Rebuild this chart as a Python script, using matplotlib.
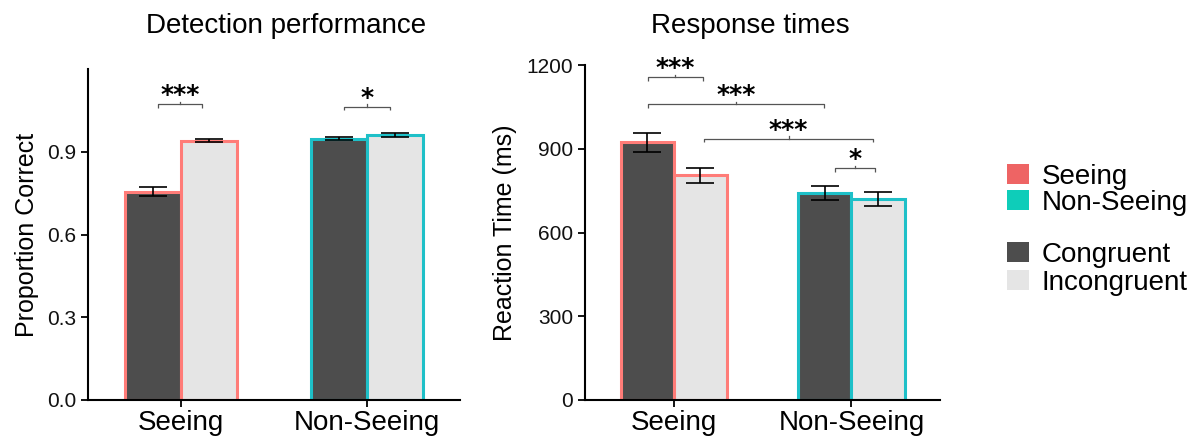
import numpy as np
import matplotlib.pyplot as plt
from matplotlib.patches import Rectangle

plt.rcParams['font.family'] = ['Liberation Sans', 'DejaVu Sans']

groups = ['Seeing', 'Non-Seeing']
conditions = ['Congruent', 'Incongruent']

# detection accuracy (proportion correct), mean and s.e.m.
acc_congruent = [0.756, 0.948]
acc_incongruent = [0.940, 0.961]
acc_err_congruent = [0.017, 0.007]
acc_err_incongruent = [0.006, 0.006]

# reaction times (ms), mean and s.e.m.
rt_congruent = [923, 742]
rt_incongruent = [806, 720]
rt_err_congruent = [35, 25]
rt_err_incongruent = [27, 25]

# significance brackets: (x1, x2, height, label)
acc_sig = [(-0.124, 0.113, 1.072, '***'), (0.876, 1.124, 1.064, '*')]
rt_sig = [(-0.146, 0.163, 1156, '***'), (-0.146, 0.843, 1060, '***'),
          (0.169, 1.124, 935, '***'), (0.910, 1.135, 830, '*')]

group_edge = ['#FF7C78', '#1EC0C8']
legend_group = ['#EE6464', '#0ECDB9']
fill_colors = ['#4D4D4D', '#E5E5E5']

width = 0.3
x = np.arange(len(groups))

fig = plt.figure(figsize=(12, 4.36), dpi=100)
ax1 = fig.add_axes([0.0733, 0.0826, 0.310, 0.759])
ax2 = fig.add_axes([0.4875, 0.0826, 0.296, 0.768])


def draw_panel(ax, cong, incong, err_c, err_i, sig, ymax, bracket_drop):
    for vals, errs, offset, fc in [(cong, err_c, -width / 2, fill_colors[0]),
                                   (incong, err_i, width / 2, fill_colors[1])]:
        ax.bar(x + offset, vals, width, color=fc, edgecolor=group_edge,
               linewidth=2.2, zorder=2)
        ax.errorbar(x + offset, vals, yerr=errs, fmt='none', ecolor='black',
                    elinewidth=1.2, capsize=10, capthick=1.2, zorder=3)
    for x1, x2, h, label in sig:
        d = bracket_drop
        ax.plot([x1, x1, x2, x2], [h - d, h, h, h - d], color='#555555',
                lw=0.9, solid_capstyle='butt', zorder=3)
        xm = (x1 + x2) / 2
        ax.plot([xm, xm], [h, h + d * 0.8], color='#555555', lw=0.9, zorder=3)
        ax.text(xm, h + d * 0.6, label, ha='center', va='baseline',
                fontsize=18, fontweight='bold', family='DejaVu Sans')
    ax.set_xlim(-0.5, 1.5)
    ax.set_ylim(0, ymax)
    ax.set_xticks(x)
    ax.set_xticklabels(groups, fontsize=20)
    ax.spines['top'].set_visible(False)
    ax.spines['right'].set_visible(False)
    ax.spines['left'].set_linewidth(1.5)
    ax.spines['bottom'].set_linewidth(1.5)
    ax.tick_params(axis='both', direction='out', length=5, width=1.3,
                   colors='black')
    ax.tick_params(axis='y', labelsize=15, labelcolor='#111111')
    ax.tick_params(axis='x', pad=2)


draw_panel(ax1, acc_congruent, acc_incongruent, acc_err_congruent,
           acc_err_incongruent, acc_sig, 1.2, 0.012)
ax1.set_yticks([0.0, 0.3, 0.6, 0.9])
ax1.set_yticklabels(['0.0', '0.3', '0.6', '0.9'])
ax1.set_ylabel('Proportion Correct', fontsize=18, labelpad=6)
ax1.set_title('Detection performance', fontsize=20, pad=26, x=0.532)

draw_panel(ax2, rt_congruent, rt_incongruent, rt_err_congruent,
           rt_err_incongruent, rt_sig, 1200, 12)
ax2.set_yticks([0, 300, 600, 900, 1200])
ax2.set_ylabel('Reaction Time (ms)', fontsize=18, labelpad=7)
ax2.set_title('Response times', fontsize=20, pad=23, x=0.465)

# legend: colour swatches in pixel positions of a 1200x436 canvas
legend_labels = ['Seeing', 'Non-Seeing', 'Congruent', 'Incongruent']
legend_colors = [legend_group[0], legend_group[1], fill_colors[0], fill_colors[1]]
legend_rows = [174, 200, 252, 280]
W, H = 1200, 436
for lab, col, yc in zip(legend_labels, legend_colors, legend_rows):
    fig.add_artist(Rectangle((1007 / W, (H - yc - 10) / H), 22 / W, 20 / H,
                             transform=fig.transFigure, facecolor=col,
                             edgecolor='none'))
    fig.text(1042 / W, (H - yc) / H, lab, fontsize=20, va='center_baseline',
             ha='left')

fig.savefig('out.png', dpi=100)
